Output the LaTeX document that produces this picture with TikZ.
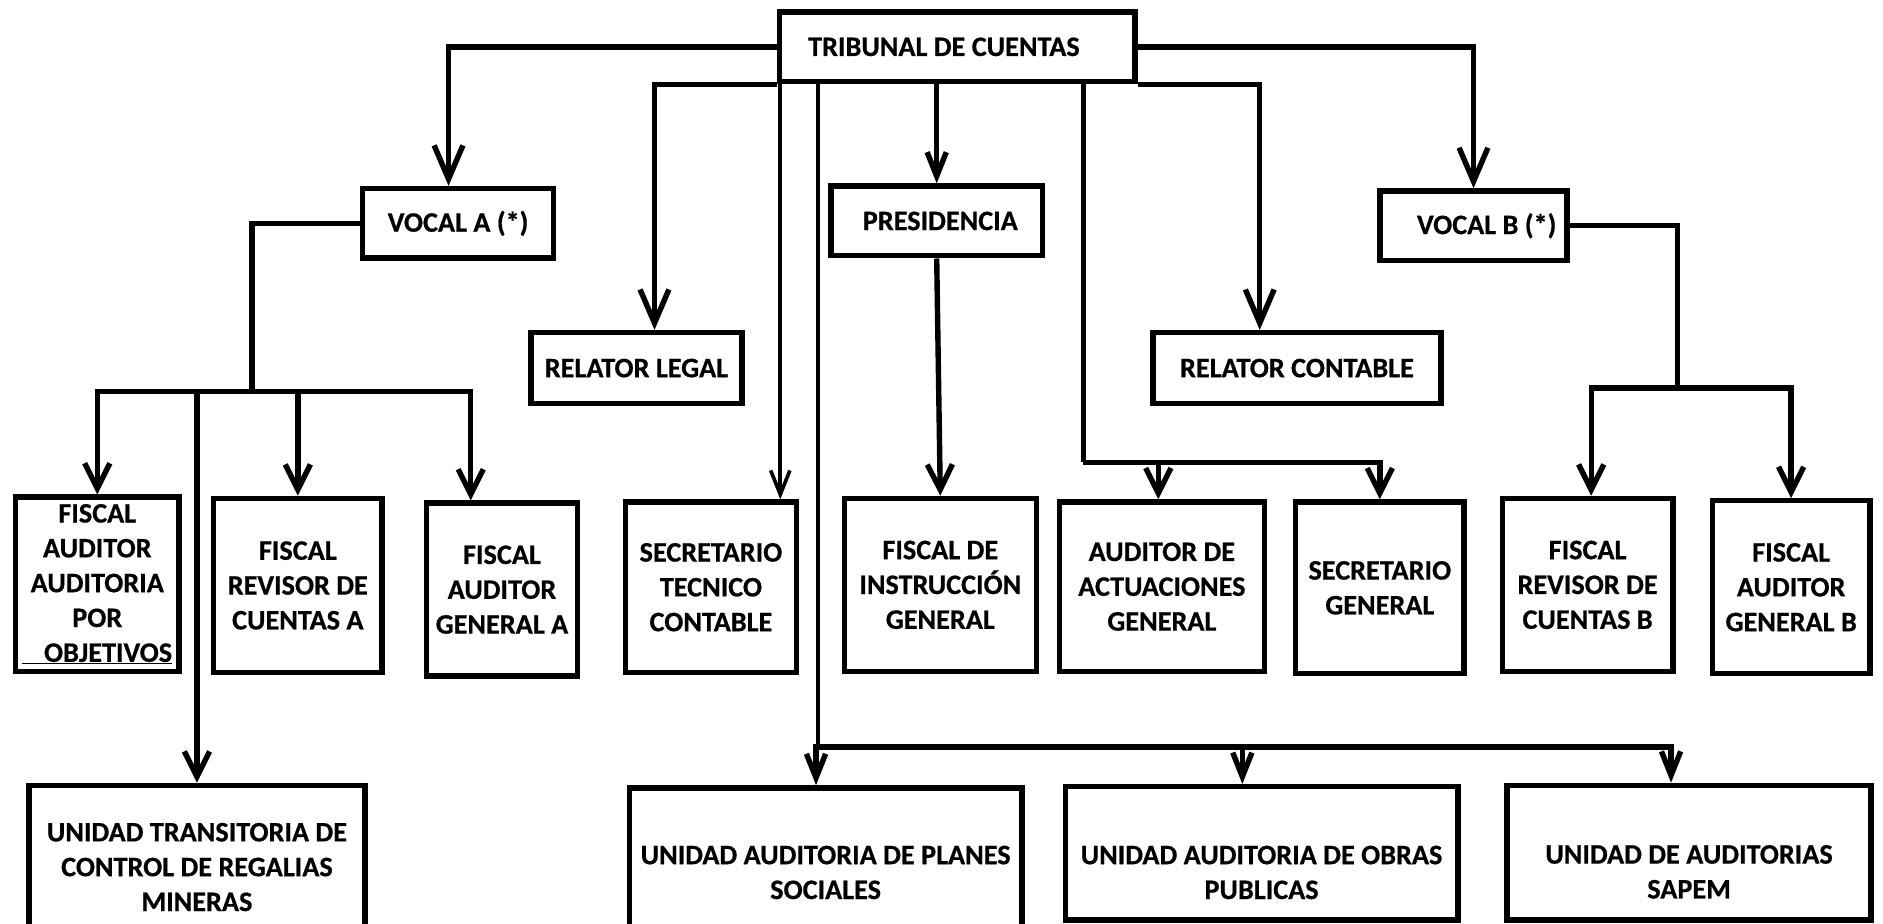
\documentclass[tikz,border=0pt]{standalone}
\usepackage{fontspec}
\setmainfont{Carlito}[BoldFeatures={FakeBold=0.6}]
\usetikzlibrary{arrows.meta}

\begin{document}
\begin{tikzpicture}[x=1pt,y=-1pt,line width=4.5pt,every node/.style={draw,line width=4.5pt,align=center,inner sep=0pt,font=\fontsize{23.5}{29}\selectfont\bfseries},arr/.style={-{Straight Barb[length=21pt,width=21pt]}},arrl/.style={-{Straight Barb[length=28pt,width=24pt]}},arrs/.style={-{Straight Barb[length=20pt,width=16pt]}},low/.style={label={[draw=none,yshift=-16]center:#1}}
]
\useasboundingbox (0,0) rectangle (1568,769);
\node[minimum width=296,minimum height=58] (tc) at (797,39) {TRIBUNAL DE CUENTAS\kern22pt};
\node[minimum width=159,minimum height=58] (va) at (381.5,186) {VOCAL A (*)};
\node[minimum width=176,minimum height=58] (pres) at (780,184) {\kern6pt PRESIDENCIA};
\node[minimum width=156,minimum height=58] (vb) at (1227,188) {\kern22pt VOCAL B (*)};
\node[minimum width=176,minimum height=59] (rl) at (530,306.5) {RELATOR LEGAL};
\node[minimum width=240,minimum height=59] (rc) at (1080,306.5) {RELATOR CONTABLE};
\node[minimum width=136,minimum height=145] (fao) at (81,486.5) {FISCAL\\AUDITOR\\AUDITORIA\\POR\\\underline{\hspace{18pt}OBJETIVOS}};
\node[minimum width=140,minimum height=145] (frca) at (248,487.5) {FISCAL\\REVISOR DE\\CUENTAS A};
\node[minimum width=126,minimum height=144] (faga) at (418,491) {FISCAL\\AUDITOR\\GENERAL A};
\node[minimum width=142,minimum height=142] (stc) at (592,489) {SECRETARIO\\TECNICO\\CONTABLE};
\node[minimum width=160,minimum height=144] (fig) at (783,487) {FISCAL DE\\INSTRUCCIÓN\\GENERAL};
\node[minimum width=171,minimum height=141] (aag) at (967.5,488.5) {AUDITOR DE\\ACTUACIONES\\GENERAL};
\node[minimum width=140,minimum height=143] (sg) at (1149,489.5) {SECRETARIO\\GENERAL};
\node[minimum width=142,minimum height=144] (frcb) at (1322,487) {FISCAL\\REVISOR DE\\CUENTAS B};
\node[minimum width=131,minimum height=144] (fagb) at (1491.5,489) {FISCAL\\AUDITOR\\GENERAL B};
\node[minimum width=280,minimum height=136] (utc) at (164,722) {UNIDAD TRANSITORIA DE\\CONTROL DE REGALIAS\\MINERAS};
\node[minimum width=327,minimum height=141] (ups) at (687.5,726.5) {UNIDAD AUDITORIA DE PLANES\\SOCIALES};
\node[minimum width=327,minimum height=111,low={UNIDAD AUDITORIA DE OBRAS\\PUBLICAS}] (uop) at (1050.5,710.5) {};
\node[minimum width=303,minimum height=112,low={UNIDAD DE AUDITORIAS\\SAPEM}] (sapem) at (1406.5,710) {};
\coordinate (busa) at (210,326);
\coordinate (busb) at (1397,323);
\coordinate (busp) at (902,385);
\coordinate (busu) at (681,622);
\draw[arrl] (tc.west) -| ([xshift=-8]va.north);
\draw[arrl] (tc.east) -| (vb.north);
\draw[arrl] (tc.south west) -| ([xshift=15]rl.north);
\draw[arrs,line width=3pt] ([xshift=3]tc.south west) -- ([xshift=3]tc.south west |- stc.north);
\draw[arrs] (tc.south -| pres.north) -- (pres.north);
\draw[arr] (pres.south) -- (fig.north);
\draw[arrl] (tc.south east) -| ([xshift=-31]rc.north);
\draw (tc.south -| busp) -- (busp);
\draw[arr] (busp) -| ([xshift=-3]aag.north);
\draw[arr] (busp) -| (sg.north);
\draw[line width=3.5pt] (tc.south -| busu) -- (busu);
\draw[arrs] (busu) -| ([xshift=-8]ups.north);
\draw[arrs] (busu) -| ([xshift=-16]uop.north);
\draw[arrs] (busu) -| ([xshift=-15]sapem.north);
\draw (va.west) -| (busa);
\draw[arr] (busa) -| (fao.north);
\draw[arr] (busa) -| (frca.north);
\draw[arr] (busa) -| ([xshift=-26]faga.north);
\draw[arr] (busa) -| (utc.north);
\draw (vb.east) -| (busb);
\draw[arr] (busb) -| ([xshift=3]frcb.north);
\draw[arr] (busb) -| (fagb.north);
\end{tikzpicture}
\end{document}
